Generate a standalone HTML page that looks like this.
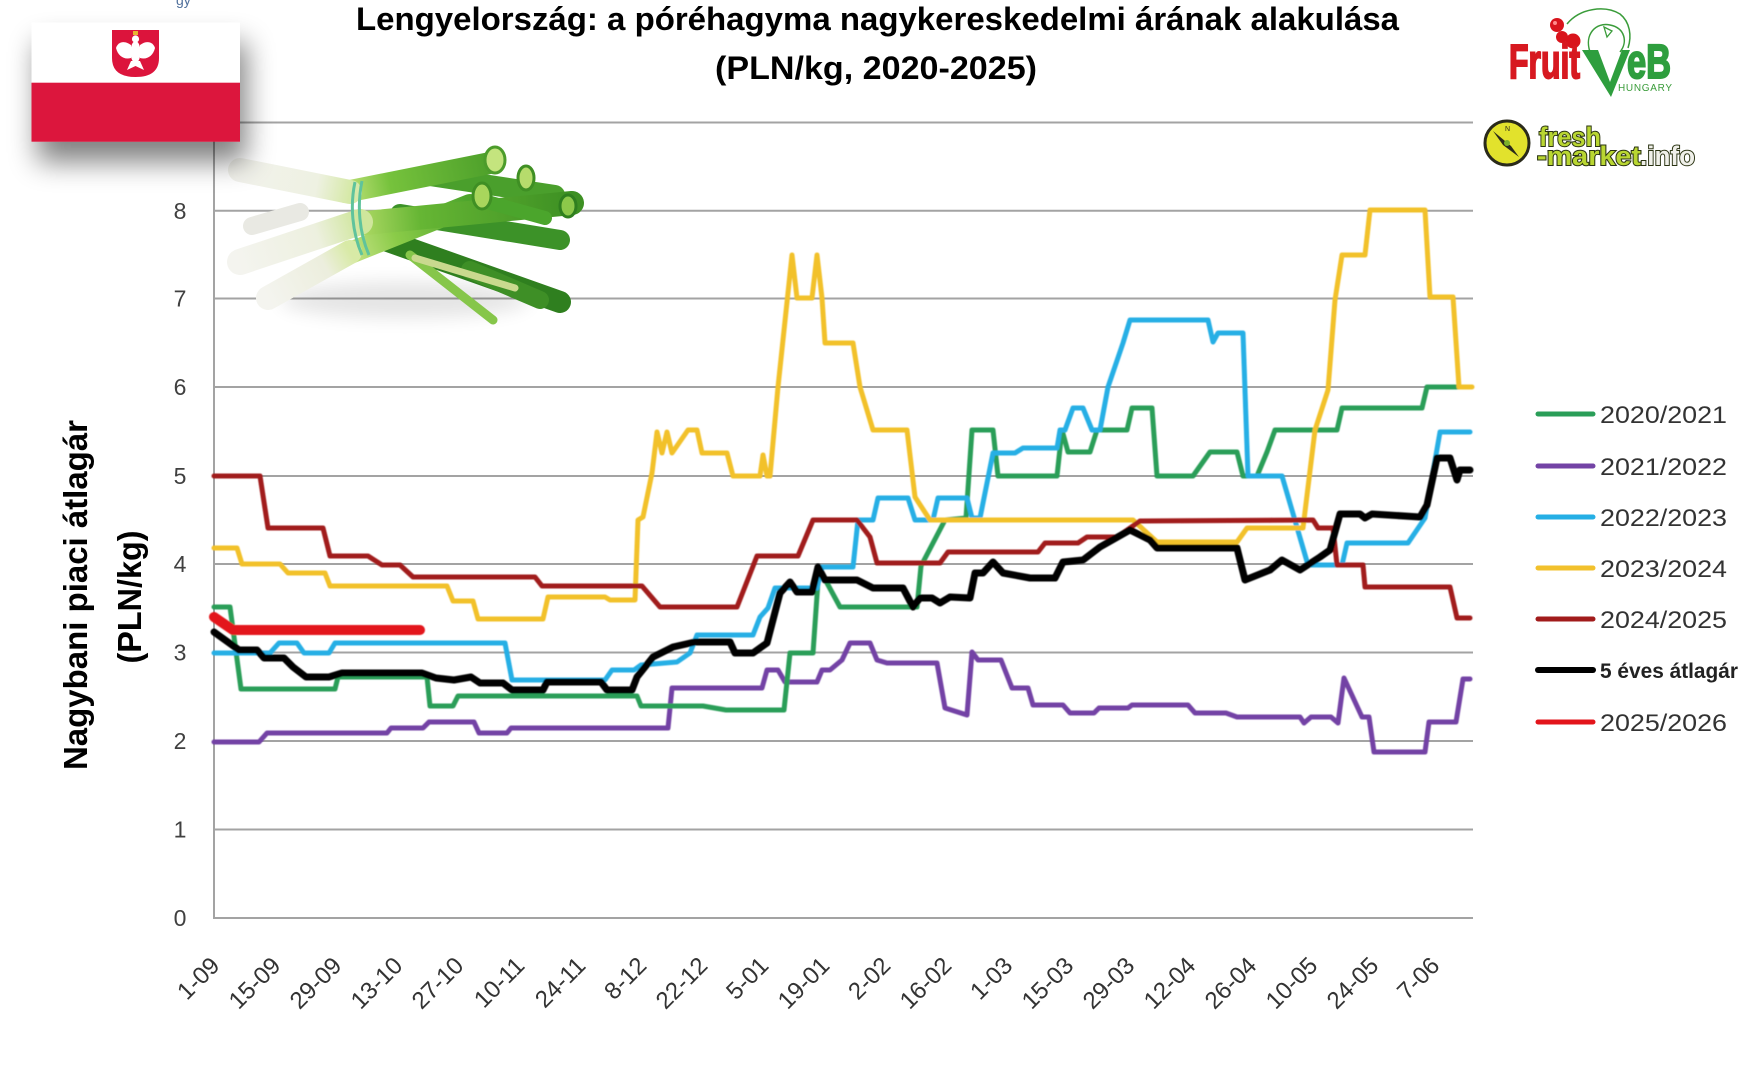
<!DOCTYPE html>
<html>
<head>
<meta charset="utf-8">
<style>
  html, body { margin: 0; padding: 0; background: #ffffff; }
  body { width: 1763px; height: 1068px; overflow: hidden; position: relative; }
  svg { position: absolute; left: 0; top: 0; }
  text { font-family: "Liberation Sans", "DejaVu Sans", sans-serif; }
</style>
</head>
<body>
<svg width="1763" height="1068" viewBox="0 0 1763 1068" xmlns="http://www.w3.org/2000/svg">
  <defs>
    <filter id="flagShadow" x="-30%" y="-30%" width="170%" height="200%">
      <feGaussianBlur in="SourceAlpha" stdDeviation="14"/>
      <feOffset dx="6" dy="20" result="ob"/>
      <feComponentTransfer><feFuncA type="linear" slope="0.5"/></feComponentTransfer>
      <feMerge><feMergeNode/><feMergeNode in="SourceGraphic"/></feMerge>
    </filter>
    <filter id="soft" x="-50%" y="-50%" width="200%" height="200%">
      <feGaussianBlur stdDeviation="9"/>
    </filter>
    <filter id="glow" x="-5%" y="-5%" width="110%" height="110%">
      <feGaussianBlur stdDeviation="0.6"/>
    </filter>
    <linearGradient id="wA" gradientUnits="userSpaceOnUse" x1="238" y1="170" x2="350" y2="192">
      <stop offset="0" stop-color="#f2f2ec"/>
      <stop offset="0.7" stop-color="#eef1e2"/>
      <stop offset="1" stop-color="#d6e9a8"/>
    </linearGradient>
    <linearGradient id="gA" gradientUnits="userSpaceOnUse" x1="345" y1="192" x2="495" y2="162">
      <stop offset="0" stop-color="#c2e27c"/>
      <stop offset="0.3" stop-color="#76c23c"/>
      <stop offset="1" stop-color="#4c9f2a"/>
    </linearGradient>
    <linearGradient id="wB" gradientUnits="userSpaceOnUse" x1="238" y1="262" x2="360" y2="222">
      <stop offset="0" stop-color="#f4f4ef"/>
      <stop offset="0.65" stop-color="#edf0df"/>
      <stop offset="1" stop-color="#cfe69c"/>
    </linearGradient>
    <linearGradient id="gB" gradientUnits="userSpaceOnUse" x1="355" y1="224" x2="572" y2="203">
      <stop offset="0" stop-color="#b4dc68"/>
      <stop offset="0.3" stop-color="#66b634"/>
      <stop offset="1" stop-color="#3d9023"/>
    </linearGradient>
    <linearGradient id="wC" gradientUnits="userSpaceOnUse" x1="268" y1="298" x2="350" y2="252">
      <stop offset="0" stop-color="#f4f4ef"/>
      <stop offset="0.7" stop-color="#eceedd"/>
      <stop offset="1" stop-color="#d8eaa6"/>
    </linearGradient>
    <linearGradient id="gC" gradientUnits="userSpaceOnUse" x1="345" y1="255" x2="470" y2="205">
      <stop offset="0" stop-color="#cbe58a"/>
      <stop offset="0.4" stop-color="#8acb48"/>
      <stop offset="1" stop-color="#4ea52c"/>
    </linearGradient>
  </defs>

  <!-- small cut-off text at top -->
  <text x="176" y="5" font-size="14" fill="#50709c">gy</text>

  <!-- Title -->
  <text x="356" y="30" font-size="32" font-weight="bold" fill="#000" textLength="1043" lengthAdjust="spacingAndGlyphs">Lengyelország: a póréhagyma nagykereskedelmi árának alakulása</text>
  <text x="715" y="79" font-size="32" font-weight="bold" fill="#000" textLength="322" lengthAdjust="spacingAndGlyphs">(PLN/kg, 2020-2025)</text>

  <!-- Gridlines -->
  <g stroke="#a3a3a3" stroke-width="2">
    <line x1="213" y1="122.5" x2="1473" y2="122.5"/>
    <line x1="213" y1="210.8" x2="1473" y2="210.8"/>
    <line x1="213" y1="298.5" x2="1473" y2="298.5"/>
    <line x1="213" y1="387" x2="1473" y2="387"/>
    <line x1="213" y1="476" x2="1473" y2="476"/>
    <line x1="213" y1="564" x2="1473" y2="564"/>
    <line x1="213" y1="652.5" x2="1473" y2="652.5"/>
    <line x1="213" y1="741" x2="1473" y2="741"/>
    <line x1="213" y1="829.5" x2="1473" y2="829.5"/>
    <line x1="213" y1="918" x2="1473" y2="918"/>
    <line x1="214" y1="122" x2="214" y2="919"/>
  </g>

  <!-- Y tick labels -->
  <g font-size="23" fill="#404040" text-anchor="middle">
    <text x="180" y="926">0</text>
    <text x="180" y="837.5">1</text>
    <text x="180" y="749">2</text>
    <text x="180" y="660.5">3</text>
    <text x="180" y="572">4</text>
    <text x="180" y="484">5</text>
    <text x="180" y="395">6</text>
    <text x="180" y="306.5">7</text>
    <text x="180" y="218.8">8</text>
  </g>

  <!-- Y axis title -->
  <text transform="translate(87,595) rotate(-90)" font-size="33" font-weight="bold" fill="#000" text-anchor="middle" textLength="350" lengthAdjust="spacingAndGlyphs">Nagybani piaci átlagár</text>
  <text transform="translate(141,597) rotate(-90)" font-size="33" font-weight="bold" fill="#000" text-anchor="middle" textLength="133" lengthAdjust="spacingAndGlyphs">(PLN/kg)</text>

  <!-- X tick labels -->
  <g font-size="24" fill="#333" text-anchor="end">
    <text transform="translate(221,967) rotate(-45)">1-09</text>
    <text transform="translate(282,967) rotate(-45)">15-09</text>
    <text transform="translate(343,967) rotate(-45)">29-09</text>
    <text transform="translate(404,967) rotate(-45)">13-10</text>
    <text transform="translate(465,967) rotate(-45)">27-10</text>
    <text transform="translate(526,967) rotate(-45)">10-11</text>
    <text transform="translate(587,967) rotate(-45)">24-11</text>
    <text transform="translate(648,967) rotate(-45)">8-12</text>
    <text transform="translate(709,967) rotate(-45)">22-12</text>
    <text transform="translate(770,967) rotate(-45)">5-01</text>
    <text transform="translate(831,967) rotate(-45)">19-01</text>
    <text transform="translate(892,967) rotate(-45)">2-02</text>
    <text transform="translate(953,967) rotate(-45)">16-02</text>
    <text transform="translate(1014,967) rotate(-45)">1-03</text>
    <text transform="translate(1075,967) rotate(-45)">15-03</text>
    <text transform="translate(1136,967) rotate(-45)">29-03</text>
    <text transform="translate(1197,967) rotate(-45)">12-04</text>
    <text transform="translate(1258,967) rotate(-45)">26-04</text>
    <text transform="translate(1319,967) rotate(-45)">10-05</text>
    <text transform="translate(1380,967) rotate(-45)">24-05</text>
    <text transform="translate(1441,967) rotate(-45)">7-06</text>
  </g>

  <!-- Series -->
  <g fill="none" stroke-linejoin="round" stroke-linecap="round" filter="url(#glow)">
    <!-- 2021/2022 purple -->
    <polyline stroke="#7343a5" stroke-width="5" points="214,742 259,742 267,733 387,733 391,728 423,728 429,722 474,722 479,733 507,733 511,728 668,728 672,688 762,688 767,670 778,670 785,682 817,682 822,670 830,670 842,660 850,643 870,643 877,660 887,663 937,663 945,708 967,715 972,652 978,660 1001,660 1012,688 1028,688 1033,705 1063,705 1070,713 1094,713 1099,708 1128,708 1132,705 1188,705 1195,713 1226,713 1237,717 1300,717 1304,723 1311,717 1331,717 1338,723 1344,678 1362,717 1369,717 1374,752 1425,752 1429,722 1456,722 1463,679 1470,679"/>
    <!-- 2020/2021 green -->
    <polyline stroke="#2a9e58" stroke-width="5" points="214,607 230,607 241,689 335,689 338,677 427,677 430,706 453,706 458,696 637,696 641,706 703,706 726,710 784,710 790,653 813,653 819,567 827,583 840,607 917,607 921,566 945,520 966,518 972,430 993,430 998,476 1057,476 1062,430 1068,452 1090,452 1097,430 1127,430 1132,408 1152,408 1157,476 1193,476 1210,452 1237,452 1243,476 1257,476 1267,452 1275,430 1337,430 1342,408 1422,408 1427,387 1470,387"/>
    <!-- 2022/2023 cyan -->
    <polyline stroke="#25afe5" stroke-width="5" points="214,653 270,653 279,643 297,643 304,653 329,653 335,643 505,643 512,680 605,680 612,670 634,670 641,665 677,662 690,653 697,635 753,635 760,617 768,608 775,588 817,588 822,567 853,567 858,520 873,520 878,498 908,498 915,520 933,520 938,498 967,498 972,518 980,518 993,453 1015,453 1023,448 1057,448 1060,430 1065,430 1073,408 1083,408 1092,430 1100,430 1108,387 1123,343 1130,320 1208,320 1213,342 1218,333 1243,333 1248,476 1282,476 1308,565 1342,565 1347,543 1408,543 1425,518 1440,432 1470,432"/>
    <!-- 2023/2024 yellow -->
    <polyline stroke="#f2c12c" stroke-width="5" points="214,548 237,548 242,564 280,564 288,573 325,573 330,586 447,586 453,601 473,601 478,619 543,619 548,597 605,597 610,600 635,600 638,520 643,517 652,473 657,432 662,453 667,432 672,453 688,430 697,430 702,453 727,453 733,476 760,476 763,455 767,476 770,476 778,387 792,255 797,298 812,298 817,255 822,298 825,343 853,343 860,387 873,430 907,430 915,497 930,520 1133,520 1157,542 1237,542 1247,528 1303,528 1315,430 1328,390 1335,300 1342,255 1365,255 1370,210 1425,210 1430,297 1453,297 1459,387 1472,387"/>
    <!-- 2024/2025 dark red -->
    <polyline stroke="#a11b1b" stroke-width="5" points="214,476 260,476 268,528 323,528 330,556 368,556 382,565 400,565 413,577 535,577 542,586 642,586 660,607 737,607 757,556 798,556 813,520 857,520 870,537 877,563 940,563 948,552 1038,552 1045,543 1078,543 1087,537 1117,537 1140,521 1313,520 1318,528 1333,528 1337,565 1363,565 1365,587 1450,587 1457,618 1470,618"/>
    <!-- 5 éves átlagár black -->
    <polyline stroke="#000" stroke-width="7" points="214,632 239,650 257,650 264,658 284,658 293,667 306,677 329,677 342,673 422,673 436,678 454,680 471,677 480,683 503,683 512,690 543,690 547,682 601,682 607,690 632,690 637,677 653,657 673,647 695,642 730,642 735,653 753,653 767,643 780,593 790,582 797,592 812,592 818,567 825,580 857,580 873,588 903,588 913,607 920,598 932,598 940,603 950,597 970,598 975,573 983,573 993,562 1003,573 1030,578 1055,578 1063,562 1083,560 1100,547 1130,530 1150,540 1157,548 1237,548 1245,580 1270,570 1282,560 1300,570 1320,557 1330,550 1340,514 1360,514 1365,518 1372,514 1420,517 1427,505 1437,458 1450,458 1457,480 1460,470 1470,470"/>
    <!-- 2025/2026 red -->
    <polyline stroke="#e3141b" stroke-width="10" points="214,617 233,630 420,630"/>
  </g>

  <!-- Legend -->
  <g stroke-linecap="round">
    <line x1="1538" y1="414" x2="1593" y2="414" stroke="#2a9e58" stroke-width="5"/>
    <line x1="1538" y1="466" x2="1593" y2="466" stroke="#7343a5" stroke-width="5"/>
    <line x1="1538" y1="517" x2="1593" y2="517" stroke="#25afe5" stroke-width="5"/>
    <line x1="1538" y1="568" x2="1593" y2="568" stroke="#f2c12c" stroke-width="5"/>
    <line x1="1538" y1="619" x2="1593" y2="619" stroke="#a11b1b" stroke-width="5"/>
    <line x1="1538" y1="670" x2="1593" y2="670" stroke="#000" stroke-width="6"/>
    <line x1="1538" y1="722" x2="1593" y2="722" stroke="#e3141b" stroke-width="5"/>
  </g>
  <g font-size="24" fill="#333">
    <text x="1600" y="423" textLength="127" lengthAdjust="spacingAndGlyphs">2020/2021</text>
    <text x="1600" y="475" textLength="127" lengthAdjust="spacingAndGlyphs">2021/2022</text>
    <text x="1600" y="526" textLength="127" lengthAdjust="spacingAndGlyphs">2022/2023</text>
    <text x="1600" y="577" textLength="127" lengthAdjust="spacingAndGlyphs">2023/2024</text>
    <text x="1600" y="628" textLength="127" lengthAdjust="spacingAndGlyphs">2024/2025</text>
    <text x="1600" y="678" font-size="21" font-weight="bold" fill="#222" textLength="138" lengthAdjust="spacingAndGlyphs">5 éves átlagár</text>
    <text x="1600" y="731" textLength="127" lengthAdjust="spacingAndGlyphs">2025/2026</text>
  </g>

  <!-- Leek illustration -->
  <g>
    <ellipse cx="405" cy="300" rx="125" ry="18" fill="#000" opacity="0.10" filter="url(#soft)"/>
    <g stroke-linecap="round" fill="none">
      <!-- back green leaves -->
      <line x1="430" y1="176" x2="555" y2="195" stroke="#4a9f2c" stroke-width="20"/>
      <line x1="400" y1="214" x2="560" y2="240" stroke="#3c9228" stroke-width="20"/>
      <line x1="385" y1="240" x2="560" y2="302" stroke="#2f7f1f" stroke-width="22"/>
      <line x1="470" y1="270" x2="540" y2="300" stroke="#3e8f26" stroke-width="18"/>
      <line x1="410" y1="255" x2="493" y2="320" stroke="#86c64a" stroke-width="9"/>
      <line x1="415" y1="258" x2="515" y2="288" stroke="#c9d98e" stroke-width="7"/>
      <!-- white stub -->
      <line x1="252" y1="226" x2="300" y2="212" stroke="#e9e9e3" stroke-width="18"/>
      <!-- stalk C -->
      <line x1="345" y1="255" x2="470" y2="205" stroke="url(#gC)" stroke-width="22"/>
      <line x1="268" y1="298" x2="350" y2="252" stroke="url(#wC)" stroke-width="24"/>
      <!-- stalk B -->
      <line x1="355" y1="224" x2="572" y2="203" stroke="url(#gB)" stroke-width="24"/>
      <line x1="240" y1="262" x2="360" y2="222" stroke="url(#wB)" stroke-width="26"/>
      <!-- stalk A -->
      <line x1="345" y1="192" x2="495" y2="162" stroke="url(#gA)" stroke-width="22"/>
      <line x1="240" y1="170" x2="350" y2="192" stroke="url(#wA)" stroke-width="24"/>
      <line x1="480" y1="200" x2="545" y2="218" stroke="#4ba52c" stroke-width="14"/>
    </g>
    <ellipse cx="495" cy="160" rx="10" ry="13" fill="#c4e47e" stroke="#4c9c2b" stroke-width="3"/>
    <ellipse cx="526" cy="178" rx="8" ry="12" fill="#b6dc6c" stroke="#3f8f24" stroke-width="3"/>
    <ellipse cx="482" cy="196" rx="9" ry="13" fill="#a8d65c" stroke="#3f8f24" stroke-width="3"/>
    <ellipse cx="568" cy="206" rx="8" ry="11" fill="#8cc84a" stroke="#2f7f1f" stroke-width="3"/>
    <path d="M355,182 C350,205 352,232 362,255 M362,181 C357,205 359,232 369,255" stroke="#5fc39c" stroke-width="3" fill="none"/>
  </g>

  <!-- Polish flag -->
  <g filter="url(#flagShadow)">
    <rect x="31.5" y="22.5" width="208.5" height="60.5" fill="#ffffff"/>
    <rect x="31.5" y="82.7" width="208.5" height="59" fill="#dc143c"/>
  </g>
  <g>
    <path d="M112,30 H159 V58 Q159,77 135.5,77 Q112,77 112,58 Z" fill="#dc143c"/>
    <rect x="133" y="31" width="5" height="4" fill="#e7b530"/>
    <circle cx="135.5" cy="39" r="3.6" fill="#fff"/>
    <ellipse cx="135.5" cy="52" rx="5" ry="11" fill="#fff"/>
    <path d="M131,45 C124,40 118,42 116,48 C118,56 124,60 131,58 Z" fill="#fff"/>
    <path d="M140,45 C147,40 153,42 155,48 C153,56 147,60 140,58 Z" fill="#fff"/>
    <path d="M131,61 L127,70 L135.5,66 L144,70 L140,61 Z" fill="#fff"/>
  </g>

  <!-- FruitVeB logo -->
  <g>
    <path d="M1567,24 C1580,8 1605,5 1620,14 C1630,22 1632,36 1628,48" stroke="#3a9c3a" stroke-width="1.5" fill="none"/>
    <path d="M1590,52 C1584,34 1596,22 1610,25 C1625,28 1628,42 1620,52" stroke="#3a9c3a" stroke-width="1.5" fill="none"/>
    <path d="M1604,27 L1612,31 L1607,37 Z" fill="none" stroke="#3a9c3a" stroke-width="1.3"/>
    <circle cx="1557" cy="25" r="7" fill="#d9141c"/>
    <circle cx="1562" cy="37" r="6" fill="#d9141c"/>
    <circle cx="1573" cy="41" r="7.5" fill="#d9141c"/>
    <circle cx="1555" cy="23" r="2" fill="#ff8a8a"/>
    <text x="1509" y="78" font-size="48" font-weight="bold" fill="#d71920" stroke="#d71920" stroke-width="2" textLength="71" lengthAdjust="spacingAndGlyphs">Fruit</text>
    <path d="M1582,50 L1598,50 L1610,82 L1622,50 L1630,50 L1611,97 Z" fill="#2e9e3e"/>
    <text x="1627" y="78" font-size="48" font-weight="bold" fill="#2e9e3e" stroke="#2e9e3e" stroke-width="2" textLength="44" lengthAdjust="spacingAndGlyphs">eB</text>
    <text x="1618" y="91" font-size="10" fill="#3a9c3a" textLength="54" lengthAdjust="spacing">HUNGARY</text>
  </g>

  <!-- fresh-market.info logo -->
  <g>
    <circle cx="1507" cy="143" r="22" fill="#e2e22c" stroke="#2a2a1a" stroke-width="3"/>
    <path d="M1493,131 L1511,146 L1519,157 L1503,145 Z" fill="#2a2a1a"/>
    <circle cx="1507" cy="143" r="3" fill="#7ab02a"/>
    <text x="1505" y="131" font-size="7" fill="#2a2a1a">N</text>
    <text x="1539" y="146" font-size="27" font-weight="bold" fill="#b9d632" stroke="#2a3312" stroke-width="2" paint-order="stroke" textLength="62" lengthAdjust="spacingAndGlyphs">fresh</text>
    <text x="1537" y="165" font-size="27" font-weight="bold" fill="#b9d632" stroke="#2a3312" stroke-width="2" paint-order="stroke" textLength="104" lengthAdjust="spacingAndGlyphs">-market</text>
    <text x="1640" y="165" font-size="27" font-weight="bold" fill="#f0f0ea" stroke="#2a3312" stroke-width="2" paint-order="stroke" textLength="55" lengthAdjust="spacingAndGlyphs">.info</text>
  </g>
</svg>
</body>
</html>
